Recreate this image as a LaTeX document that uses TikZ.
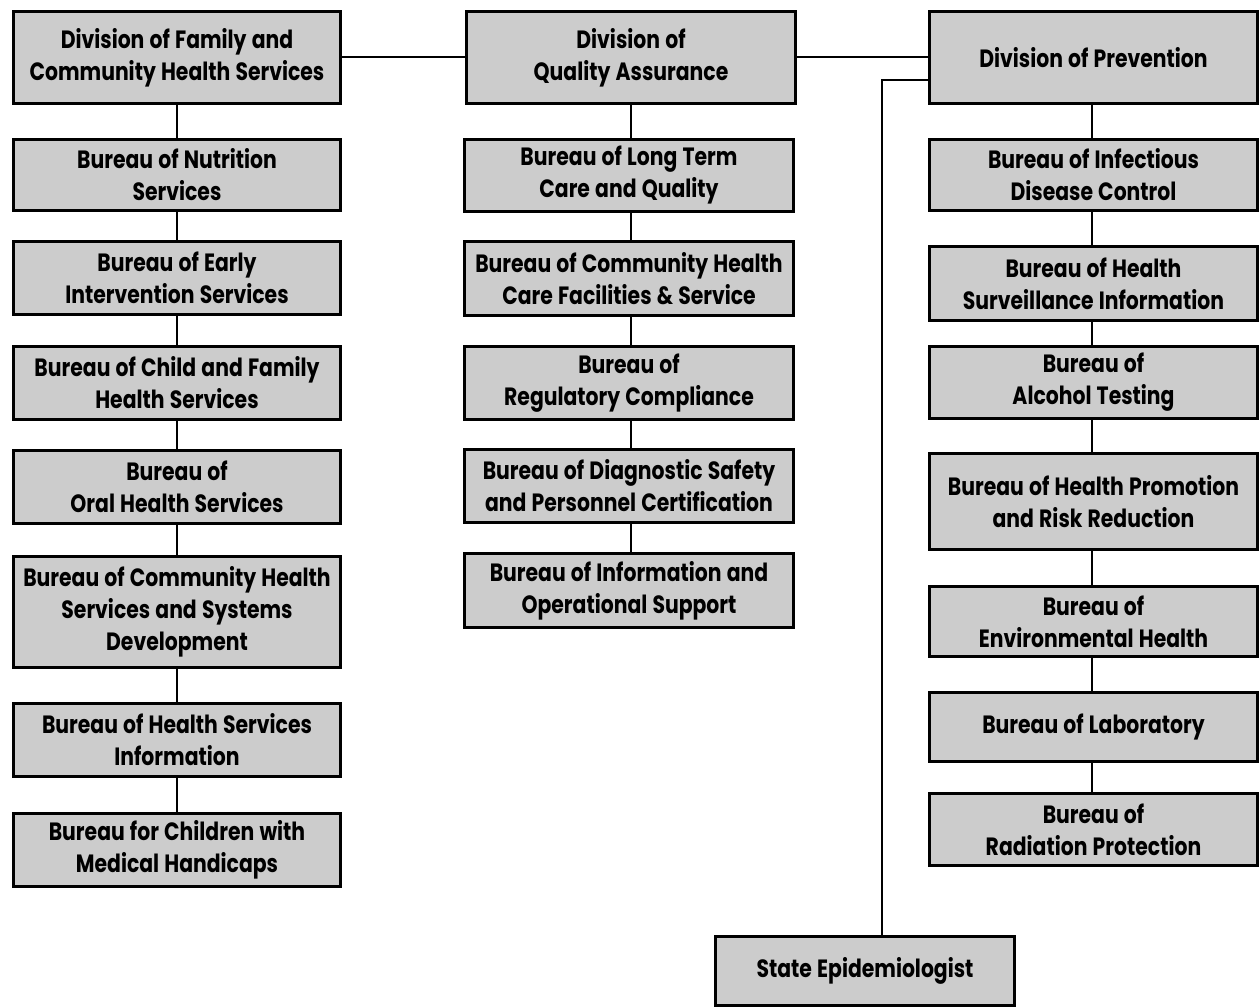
\documentclass[tikz,border=0pt]{standalone}
\usepackage{fontspec}
\setmainfont{Poppins}[FakeStretch=0.815, WordSpace=1.2]
\begin{document}
\begin{tikzpicture}[x=1pt,y=-1pt,
  orgbox/.style={draw=black, line width=3pt, fill=boxgray, align=center,
    inner sep=0pt, font=\fontsize{25}{32}\selectfont\bfseries},
  link/.style={line width=2pt, draw=black}]
\definecolor{boxgray}{HTML}{CCCCCC}
\useasboundingbox (0,0) rectangle (1259,1008);
% left column
\node[orgbox, minimum width=327pt, minimum height=92pt] (fam) at (177,57.5) {Division of Family and\\Community Health Services};
\node[orgbox, minimum width=327pt, minimum height=71pt] (nut) at (177,175) {Bureau of Nutrition\\Services};
\node[orgbox, minimum width=327pt, minimum height=73pt] (early) at (177,278) {Bureau of Early\\Intervention Services};
\node[orgbox, minimum width=327pt, minimum height=73pt] (child) at (177,383) {Bureau of Child and Family\\Health Services};
\node[orgbox, minimum width=327pt, minimum height=73pt] (oral) at (177,487) {Bureau of\\Oral Health Services};
\node[orgbox, minimum width=327pt, minimum height=111pt] (chs) at (177,612) {Bureau of Community Health\\Services and Systems\\Development};
\node[orgbox, minimum width=327pt, minimum height=73pt] (hsi) at (177,740) {Bureau of Health Services\\Information};
\node[orgbox, minimum width=327pt, minimum height=73pt] (cmh) at (177,850) {Bureau for Children with\\Medical Handicaps};
% middle column
\node[orgbox, minimum width=329pt, minimum height=92pt] (qa) at (631,57.5) {Division of\\Quality Assurance};
\node[orgbox, minimum width=329pt, minimum height=72pt] (ltc) at (629,175.5) {Bureau of Long Term\\Care and Quality};
\node[orgbox, minimum width=329pt, minimum height=74pt] (chcf) at (629,278.5) {Bureau of Community Health\\Care Facilities \& Service};
\node[orgbox, minimum width=329pt, minimum height=73pt] (reg) at (629,383) {Bureau of\\Regulatory Compliance};
\node[orgbox, minimum width=329pt, minimum height=73pt] (diag) at (629,486) {Bureau of Diagnostic Safety\\and Personnel Certification};
\node[orgbox, minimum width=329pt, minimum height=74pt] (iop) at (629,590.5) {Bureau of Information and\\Operational Support};
% right column
\node[orgbox, minimum width=328pt, minimum height=92pt] (prev) at (1093.5,57.5) {Division of Prevention};
\node[orgbox, minimum width=328pt, minimum height=71pt] (inf) at (1093.5,175) {Bureau of Infectious\\Disease Control};
\node[orgbox, minimum width=328pt, minimum height=74pt] (surv) at (1093.5,283.5) {Bureau of Health\\Surveillance Information};
\node[orgbox, minimum width=328pt, minimum height=72pt] (alc) at (1093.5,382.5) {Bureau of\\Alcohol Testing};
\node[orgbox, minimum width=328pt, minimum height=96pt] (prom) at (1093.5,501.5) {Bureau of Health Promotion\\and Risk Reduction};
\node[orgbox, minimum width=328pt, minimum height=70pt] (env) at (1093.5,621.5) {Bureau of\\Environmental Health};
\node[orgbox, minimum width=328pt, minimum height=69pt] (lab) at (1093.5,727) {Bureau of Laboratory};
\node[orgbox, minimum width=328pt, minimum height=72pt] (rad) at (1093.5,829.5) {Bureau of\\Radiation Protection};
% state epidemiologist
\node[orgbox, minimum width=299pt, minimum height=69pt] (epi) at (865,971) {State Epidemiologist};
% connectors between divisions
\draw[link] (fam.east) -- (qa.west);
\draw[link] (qa.east) -- (prev.west);
% left chain
\draw[link] (fam) -- (nut);
\draw[link] (nut) -- (early);
\draw[link] (early) -- (child);
\draw[link] (child) -- (oral);
\draw[link] (oral) -- (chs);
\draw[link] (chs) -- (hsi);
\draw[link] (hsi) -- (cmh);
% middle chain
\draw[link] (qa.south) -- (qa.south |- ltc.north);
\draw[link] (ltc.south -| qa.south) -- (chcf.north -| qa.south);
\draw[link] (chcf.south -| qa.south) -- (reg.north -| qa.south);
\draw[link] (reg.south -| qa.south) -- (diag.north -| qa.south);
\draw[link] (diag.south -| qa.south) -- (iop.north -| qa.south);
% right chain
\coordinate (rx) at (1092,0);
\draw[link] (prev.south -| rx) -- (inf.north -| rx);
\draw[link] (inf.south -| rx) -- (surv.north -| rx);
\draw[link] (surv.south -| rx) -- (alc.north -| rx);
\draw[link] (alc.south -| rx) -- (prom.north -| rx);
\draw[link] (prom.south -| rx) -- (env.north -| rx);
\draw[link] (env.south -| rx) -- (lab.north -| rx);
\draw[link] (lab.south -| rx) -- (rad.north -| rx);
% epidemiologist link
\coordinate (bend) at (882,80);
\draw[link] (prev.west |- bend) -- (bend) -- (bend |- epi.north);
\end{tikzpicture}
\end{document}
